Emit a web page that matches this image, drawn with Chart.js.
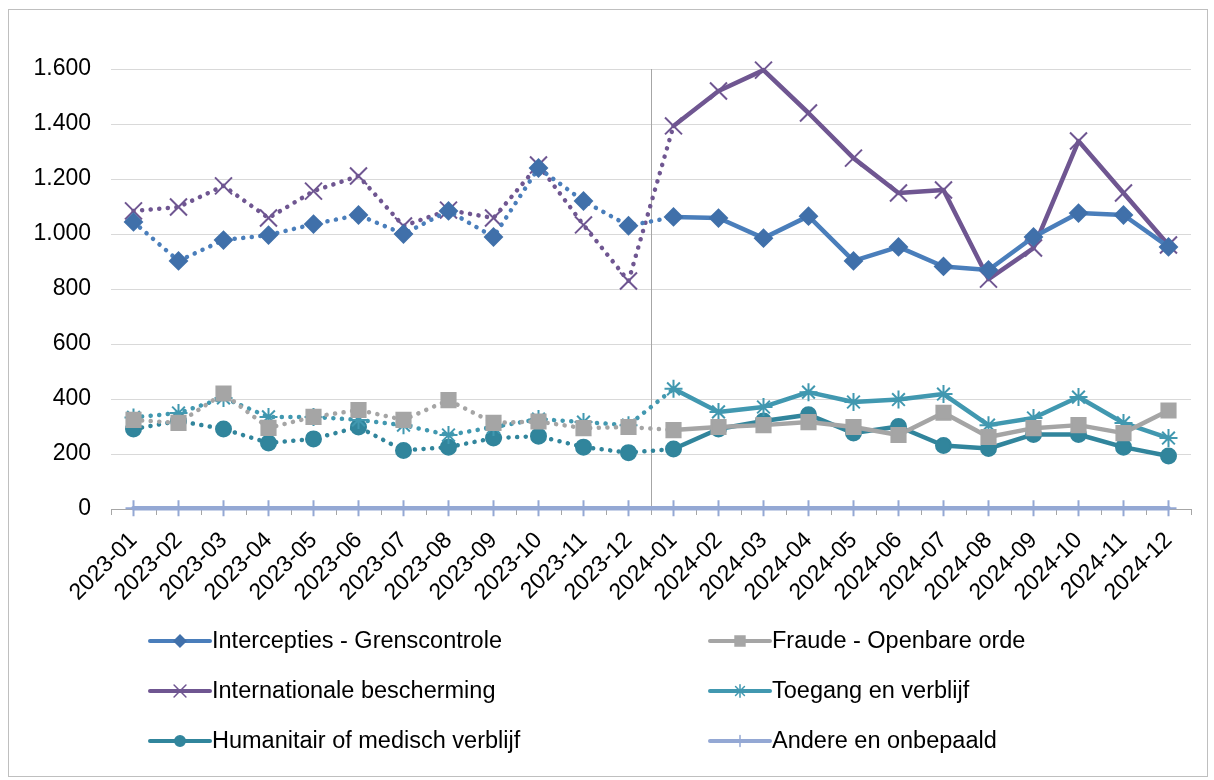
<!DOCTYPE html>
<html>
<head>
<meta charset="utf-8">
<script src="https://cdn.jsdelivr.net/npm/chart.js@4/dist/chart.umd.min.js"></script>
<style>
  html, body { margin: 0; padding: 0; background: #fff; }
  #wrap { position: absolute; left: 8px; top: 9px; width: 1198px; height: 766px; border: 1px solid #bfbfbf; }
  canvas { display: block; }
</style>
</head>
<body>
<div id="wrap"><canvas id="chart" width="1198" height="766"></canvas></div>
<script>
const months = ['2023-01','2023-02','2023-03','2023-04','2023-05','2023-06','2023-07','2023-08','2023-09','2023-10','2023-11','2023-12',
                '2024-01','2024-02','2024-03','2024-04','2024-05','2024-06','2024-07','2024-08','2024-09','2024-10','2024-11','2024-12'];

const intercepties = [1044, 902, 978, 996, 1036, 1069, 1000, 1084, 989, 1240, 1120, 1030,
                      1062, 1058, 985, 1065, 902, 953, 882, 869, 989, 1076, 1069, 953];
const fraude = [324, 313, 420, 295, 335, 360, 324, 396, 313, 318, 294, 298,
                287, 298, 305, 316, 298, 269, 350, 262, 294, 305, 276, 358];
const internationale = [1084, 1098, 1175, 1058, 1156, 1211, 1029, 1087, 1058, 1251, 1033, 829,
                        1393, 1520, 1596, 1440, 1276, 1149, 1160, 836, 949, 1338, 1149, 960];
const toegang = [333, 349, 404, 335, 335, 324, 305, 269, 298, 327, 316, 305,
                 437, 353, 371, 425, 389, 398, 418, 305, 331, 407, 313, 258];
const humanitair = [291, 320, 291, 240, 255, 298, 213, 225, 258, 265, 225, 205,
                    218, 291, 320, 343, 276, 300, 231, 220, 271, 271, 225, 193];
const andere = [3, 3, 3, 3, 3, 3, 3, 3, 3, 3, 3, 3, 3, 3, 3, 3, 3, 3, 3, 3, 3, 3, 3, 3];

const yTicks = [0, 200, 400, 600, 800, 1000, 1200, 1400, 1600];

const FONT = 'Liberation Sans, Arial, sans-serif';

// 2023 (and the step into 2024-01) is dotted, 2024 is solid
const dotted = { borderDash: ctx => ctx.p1DataIndex <= 12 ? [0.1, 8.5] : undefined };

function series(label, data, color, markColor, style, radius, extra) {
  return Object.assign({
    label: label,
    data: data,
    borderColor: color,
    backgroundColor: color,
    pointBackgroundColor: markColor,
    pointBorderColor: markColor,
    borderWidth: 4.5,
    borderCapStyle: 'round',
    borderJoinStyle: 'round',
    pointStyle: style,
    pointRadius: radius,
    pointBorderWidth: 2,
    tension: 0,
    segment: dotted,
    clip: false
  }, extra || {});
}

const splitLine = {
  id: 'splitLine',
  beforeDatasetsDraw(chart) {
    const x = chart.scales.x;
    const area = chart.chartArea;
    const px = (x.getPixelForValue(11) + x.getPixelForValue(12)) / 2;
    const ctx = chart.ctx;
    ctx.save();
    ctx.strokeStyle = '#a6a6a6';
    ctx.lineWidth = 1;
    ctx.beginPath();
    ctx.moveTo(Math.round(px) + 0.5, area.top);
    ctx.lineTo(Math.round(px) + 0.5, area.bottom);
    ctx.stroke();
    ctx.restore();
  }
};

const gridLegend = {
  id: 'gridLegend',
  afterDraw(chart) {
    const ctx = chart.ctx;
    const cols = [141, 701];
    const rows = [631, 681, 731];
    ctx.save();
    chart.data.datasets.forEach((ds, i) => {
      const x = cols[i % 2];
      const y = rows[Math.floor(i / 2)];
      ctx.strokeStyle = ds.borderColor;
      ctx.lineWidth = 4;
      ctx.lineCap = 'round';
      ctx.beginPath();
      ctx.moveTo(x, y);
      ctx.lineTo(x + 60, y);
      ctx.stroke();
      ctx.fillStyle = ds.pointBackgroundColor;
      ctx.strokeStyle = ds.pointBorderColor;
      ctx.lineWidth = 1.5;
      Chart.helpers.drawPoint(ctx, { pointStyle: ds.pointStyle, radius: ds.pointRadius * 0.7, borderWidth: 1.5, rotation: 0 }, x + 30, y);
      ctx.fillStyle = '#000';
      ctx.font = '23.5px ' + FONT;
      ctx.textBaseline = 'middle';
      ctx.fillText(ds.label, x + 62, y + 1);
    });
    ctx.restore();
  }
};

new Chart(document.getElementById('chart'), {
  type: 'line',
  data: {
    labels: months,
    datasets: [
      series('Intercepties - Grenscontrole', intercepties, '#4a7ebb', '#4070aa', 'rectRot', 8.5),
      series('Fraude - Openbare orde', fraude, '#a5a5a5', '#a5a5a5', 'rect', 10),
      series('Internationale bescherming', internationale, '#6f5691', '#6f5691', 'crossRot', 12),
      series('Toegang en verblijf', toegang, '#4198b0', '#4198b0', 'star', 9),
      series('Humanitair of medisch verblijf', humanitair, '#31859c', '#31859c', 'circle', 7.5),
      series('Andere en onbepaald', andere, '#94a8d4', '#94a8d4', 'cross', 8, { segment: {} })
    ]
  },
  options: {
    responsive: false,
    animation: false,
    layout: { padding: { top: 59, right: 16, left: 0, bottom: 0 } },
    plugins: {
      legend: { display: false },
      tooltip: { enabled: false }
    },
    scales: {
      x: {
        offset: true,
        grid: { display: true, drawOnChartArea: false, offset: true, tickLength: 6, color: '#a6a6a6' },
        border: { display: true, color: '#a6a6a6', width: 1 },
        ticks: {
          color: '#000',
          font: { family: FONT, size: 23 },
          minRotation: 45,
          maxRotation: 45,
          autoSkip: false,
          padding: 12
        },
        afterFit(scale) { scale.height = 267; }
      },
      y: {
        min: 0,
        max: 1600,
        afterBuildTicks(scale) { scale.ticks = yTicks.map(v => ({ value: v })); },
        grid: { color: '#d9d9d9', drawTicks: false, lineWidth: 1 },
        border: { display: false },
        ticks: {
          color: '#000',
          font: { family: FONT, size: 23 },
          padding: 20,
          callback: v => v.toLocaleString('nl-NL')
        },
        afterFit(scale) { scale.width = 102; }
      }
    }
  },
  plugins: [splitLine, gridLegend]
});
</script>
</body>
</html>
